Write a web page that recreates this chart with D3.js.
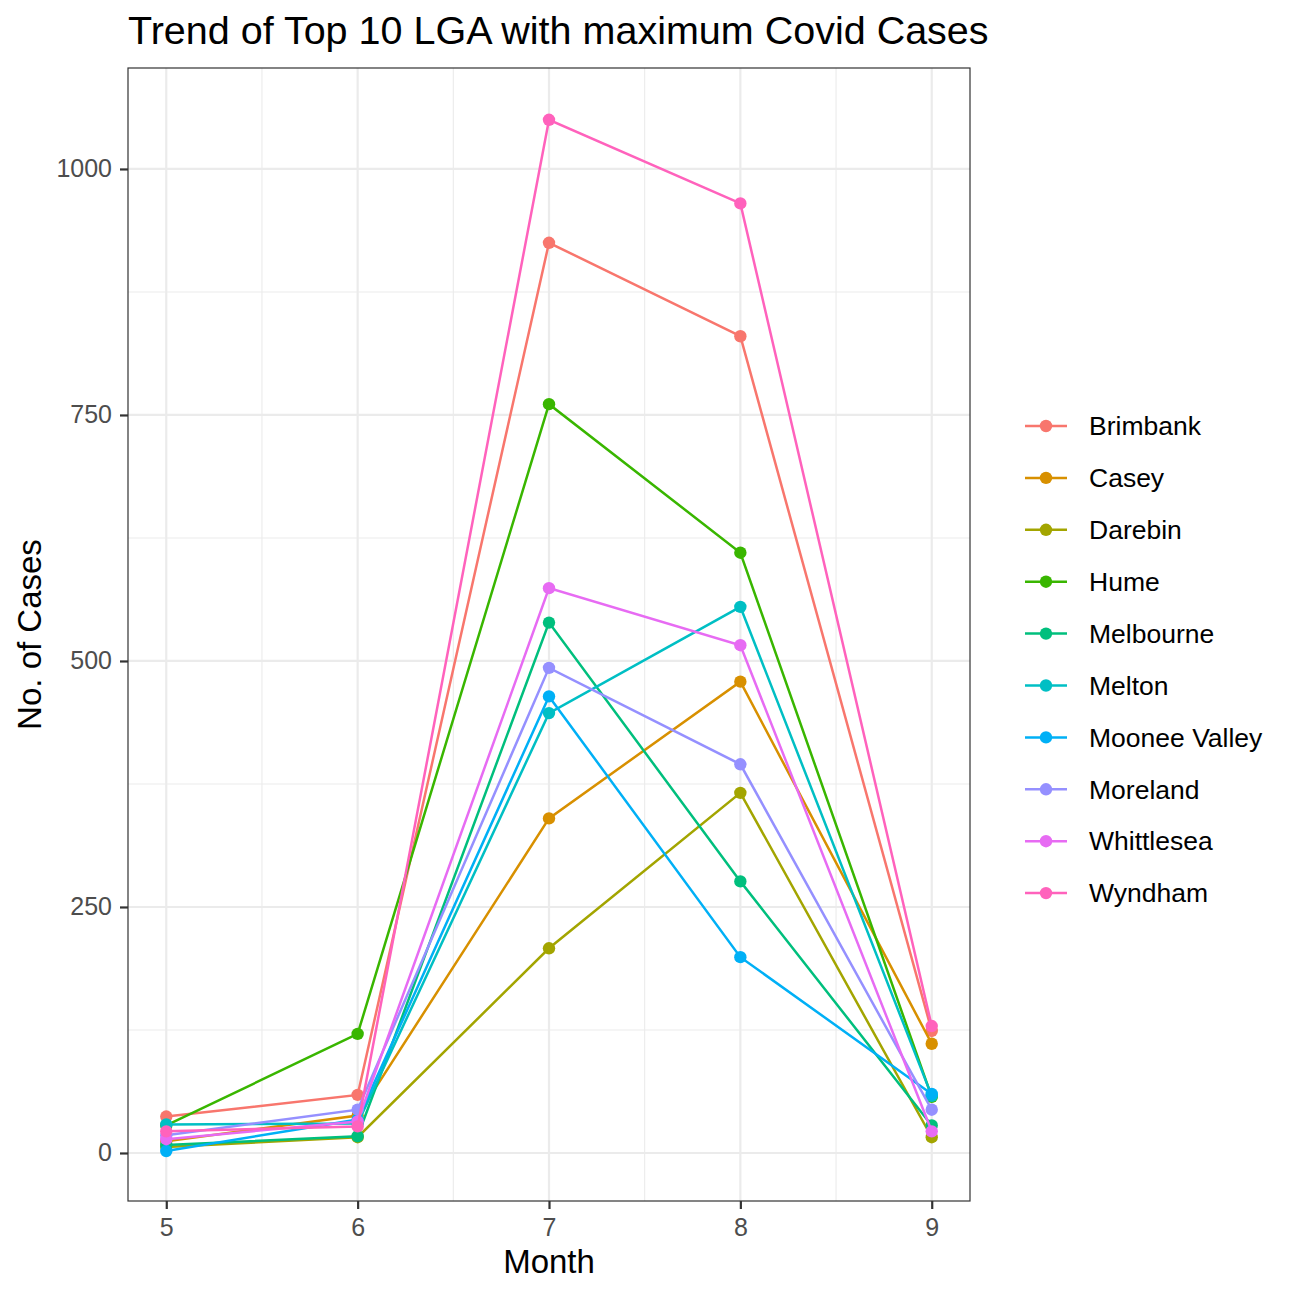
<!DOCTYPE html>
<html lang="en">
<head>
<meta charset="UTF-8">
<title>Trend of Top 10 LGA</title>
<script src="https://cdn.jsdelivr.net/npm/d3@7"></script>
<style>
  body { margin: 0; background: #fff; }
  text { font-family: "Liberation Sans", Arial, sans-serif; }
</style>
</head>
<body>
<script>
const months = [5, 6, 7, 8, 9];
const lgas = ["Brimbank", "Casey", "Darebin", "Hume", "Melbourne", "Melton",
              "Moonee Valley", "Moreland", "Whittlesea", "Wyndham"];
const brimbank    = [37, 59, 925, 830, 124];
const casey       = [12, 38, 340, 479, 111];
const darebin     = [6, 16, 208, 366, 16];
const hume        = [28, 121, 761, 610, 57];
const melbourne   = [8, 17, 539, 276, 28];
const melton      = [29, 30, 447, 555, 58];
const mooneeValley= [2, 34, 464, 199, 60];
const moreland    = [18, 44, 493, 395, 44];
const whittlesea  = [14, 32, 574, 516, 22];
const wyndham     = [22, 27, 1050, 965, 129];
const yTicks = [0, 250, 500, 750, 1000];
const colours = ["#F8766D", "#D89000", "#A3A500", "#39B600", "#00BF7D",
                 "#00BFC4", "#00B0F6", "#9590FF", "#E76BF3", "#FF62BC"];

const seriesValues = [brimbank, casey, darebin, hume, melbourne, melton,
                      mooneeValley, moreland, whittlesea, wyndham];
const series = lgas.map((name, i) => ({
  name: name,
  colour: colours[i],
  values: months.map((m, j) => ({ month: m, cases: seriesValues[i][j] }))
}));

const W = 1296, H = 1296;
const pLeft = 128, pRight = 970, pTop = 68, pBottom = 1201;

const svg = d3.select("body").append("svg")
  .attr("width", W).attr("height", H);

const x = d3.scaleLinear().domain([4.8, 9.2]).range([pLeft, pRight]);
const y = d3.scaleLinear().domain([-48.8, 1102.6]).range([pBottom, pTop]);

// panel grid
const grid = svg.append("g");
const xMinor = [5.5, 6.5, 7.5, 8.5];
const yMinor = [125, 375, 625, 875];
grid.selectAll(".xmin").data(xMinor).enter().append("line")
  .attr("x1", d => x(d)).attr("x2", d => x(d))
  .attr("y1", pTop).attr("y2", pBottom)
  .attr("stroke", "#EBEBEB").attr("stroke-width", 1.1);
grid.selectAll(".ymin").data(yMinor).enter().append("line")
  .attr("x1", pLeft).attr("x2", pRight)
  .attr("y1", d => y(d)).attr("y2", d => y(d))
  .attr("stroke", "#EBEBEB").attr("stroke-width", 1.1);
grid.selectAll(".xmaj").data(months).enter().append("line")
  .attr("x1", d => x(d)).attr("x2", d => x(d))
  .attr("y1", pTop).attr("y2", pBottom)
  .attr("stroke", "#EBEBEB").attr("stroke-width", 2.2);
grid.selectAll(".ymaj").data(yTicks).enter().append("line")
  .attr("x1", pLeft).attr("x2", pRight)
  .attr("y1", d => y(d)).attr("y2", d => y(d))
  .attr("stroke", "#EBEBEB").attr("stroke-width", 2.2);

// lines and points
const line = d3.line().x(d => x(d.month)).y(d => y(d.cases));
const g = svg.append("g");
series.forEach(s => {
  g.append("path").datum(s.values)
    .attr("d", line)
    .attr("fill", "none")
    .attr("stroke", s.colour)
    .attr("stroke-width", 2.5);
  g.selectAll(null).data(s.values).enter().append("circle")
    .attr("cx", d => x(d.month)).attr("cy", d => y(d.cases))
    .attr("r", 6.2)
    .attr("fill", s.colour);
});

// panel border
svg.append("rect")
  .attr("x", pLeft).attr("y", pTop)
  .attr("width", pRight - pLeft).attr("height", pBottom - pTop)
  .attr("fill", "none").attr("stroke", "#333333").attr("stroke-width", 1.2);

// axes
const xAxis = svg.append("g")
  .attr("transform", "translate(0," + pBottom + ")")
  .call(d3.axisBottom(x).tickValues(months).tickFormat(d3.format("d"))
    .tickSizeOuter(0).tickSize(8).tickPadding(9));
const yAxis = svg.append("g")
  .attr("transform", "translate(" + pLeft + ",0)")
  .call(d3.axisLeft(y).tickValues(yTicks).tickFormat(d3.format("d"))
    .tickSizeOuter(0).tickSize(8).tickPadding(8));
[xAxis, yAxis].forEach(a => {
  a.select(".domain").remove();
  a.selectAll(".tick line").attr("stroke", "#333333").attr("stroke-width", 2.2);
  a.selectAll(".tick text")
    .attr("fill", "#4D4D4D")
    .style("font-size", "25px")
    .style("font-family", "Liberation Sans, Arial, sans-serif");
});

// titles
svg.append("text")
  .attr("x", pLeft).attr("y", 44)
  .style("font-size", "39.5px")
  .attr("fill", "#000")
  .text("Trend of Top 10 LGA with maximum Covid Cases");
svg.append("text")
  .attr("x", (pLeft + pRight) / 2).attr("y", 1273)
  .attr("text-anchor", "middle")
  .style("font-size", "33px")
  .text("Month");
svg.append("text")
  .attr("transform", "translate(41," + ((pTop + pBottom) / 2) + ") rotate(-90)")
  .attr("text-anchor", "middle")
  .style("font-size", "33px")
  .text("No. of Cases");

// legend
const legend = svg.append("g").attr("transform", "translate(1025,426)");
const rows = legend.selectAll("g").data(series).enter().append("g")
  .attr("transform", (d, i) => "translate(0," + (i * 51.9) + ")");
rows.append("line")
  .attr("x1", 0).attr("x2", 42).attr("y1", 0).attr("y2", 0)
  .attr("stroke", d => d.colour).attr("stroke-width", 2.5);
rows.append("circle")
  .attr("cx", 21).attr("cy", 0).attr("r", 6.2)
  .attr("fill", d => d.colour);
rows.append("text")
  .attr("x", 64).attr("y", 0).attr("dy", "0.35em")
  .style("font-size", "26.5px")
  .text(d => d.name);
</script>
</body>
</html>
